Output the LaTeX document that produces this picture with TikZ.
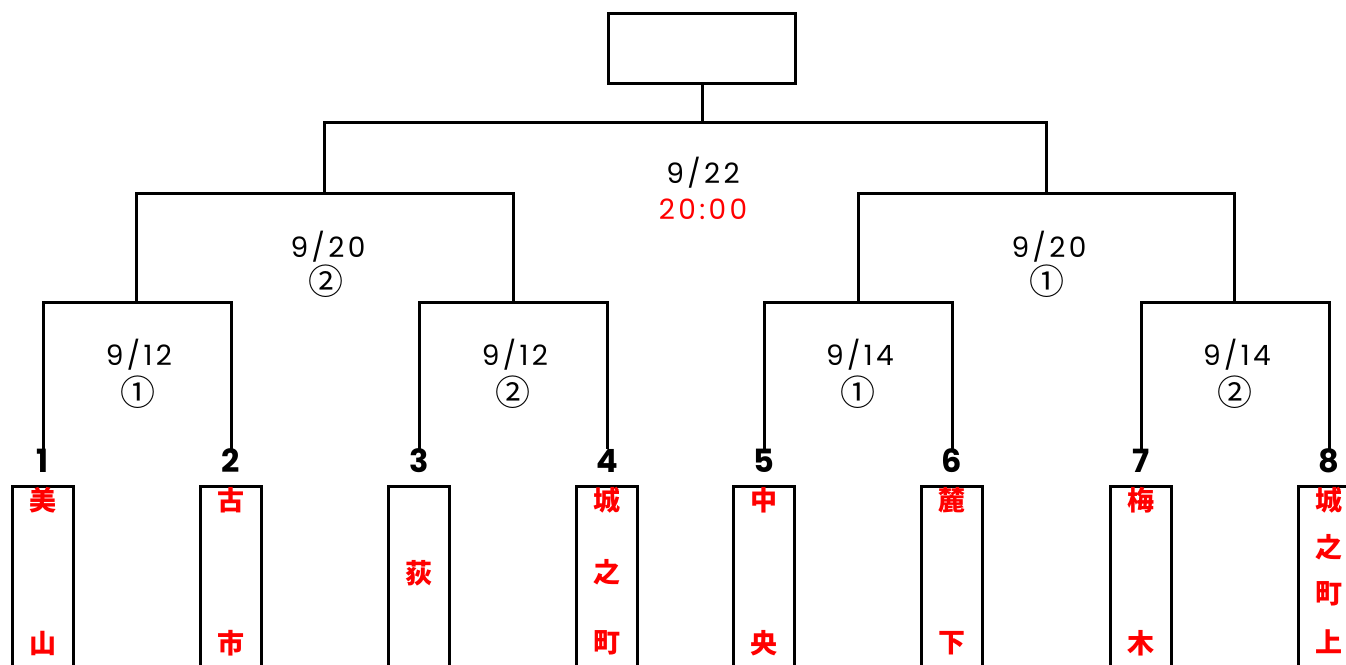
\documentclass[tikz,border=0pt]{standalone}
\usepackage{fontspec}
\setmainfont{Poppins}
\newfontfamily\datefont{Poppins}[LetterSpace=12]
\newfontfamily\jp{Noto Sans CJK JP}
\begin{document}
\begin{tikzpicture}[x=1pt,y=-1pt,
  br/.style={line width=3pt, line join=miter, line cap=rect},
  box/.style={draw, line width=3pt, inner sep=0pt, minimum width=61pt, minimum height=200pt, anchor=north},
  num/.style={font=\fontsize{32}{32}\selectfont\bfseries, inner sep=0pt, anchor=base},
  date/.style={font=\datefont\fontsize{28}{28}\selectfont, inner sep=0pt},
  circ/.style={font=\jp\fontsize{35}{35}\selectfont, inner sep=0pt},
  nm/.style={font=\jp\bfseries\fontsize{27}{27}\selectfont, text=red, inner sep=0pt}]
\useasboundingbox (0,0) rectangle (1346,664);
\clip (0,0) rectangle (1346,664);
\fill[white] (0,0) rectangle (1346,664);

% champion box
\node[draw, line width=3pt, minimum width=187pt, minimum height=70pt, inner sep=0pt] (champ) at (702,48.5) {};

% team boxes
\foreach \i/\x in {1/43,2/231,3/419,4/607,5/764,6/952,7/1141,8/1329}{
  \node[box] (t\i) at (\x,484.5) {};
  \node[num] (n\i) at (\x,472) {\i};
  \coordinate (e\i) at (\x,447);
}

% team names
\node[nm] (a1) at (43,500) {美};
\node[nm] (b1) at (43,643) {山};
\node[nm] (a2) at (231,500) {古};
\node[nm] (b2) at (231,643) {市};
\node[nm] (a3) at (419,573) {荻};
\node[nm] (a4) at (607,500) {城};
\node[nm] (b4) at (607,572) {之};
\node[nm] (c4) at (607,643) {町};
\node[nm] (a5) at (764,500) {中};
\node[nm] (b5) at (764,643) {央};
\node[nm] (a6) at (952,500) {麓};
\node[nm] (b6) at (952,643) {下};
\node[nm] (a7) at (1141,500) {梅};
\node[nm] (b7) at (1141,643) {木};
\node[nm] (a8) at (1329,500) {城};
\node[nm] (b8) at (1329,547) {之};
\node[nm] (c8) at (1329,594) {町};
\node[nm] (d8) at (1329,642) {上};

% bracket joints
\coordinate (m1) at (136.5,302);
\coordinate (m2) at (513,302);
\coordinate (m3) at (858,302);
\coordinate (m4) at (1234.5,302);
\coordinate (s1) at (324.5,193);
\coordinate (s2) at (1046.5,193);
\coordinate (f) at (702,122);

\draw[br] (e1) |- (m1) -| (e2);
\draw[br] (e3) |- (m2) -| (e4);
\draw[br] (e5) |- (m3) -| (e6);
\draw[br] (e7) |- (m4) -| (e8);
\draw[br] (m1) |- (s1) -| (m2);
\draw[br] (m3) |- (s2) -| (m4);
\draw[br] (s1) |- (f) -| (s2);
\draw[br] (f) -- (champ.south);

% dates
\node[date] (d1) at (139,355) {9/12};
\node[circ] (c1) at (137.5,392) {①};
\node[date] (d2) at (515,355) {9/12};
\node[circ] (c2) at (513,392) {②};
\node[date] (d3) at (860,355) {9/14};
\node[circ] (c3) at (858,392) {①};
\node[date] (d4) at (1237,355) {9/14};
\node[circ] (c4) at (1235,392) {②};
\node[date] (d5) at (328,247) {9/20};
\node[circ] (c5) at (326,281) {②};
\node[date] (d6) at (1049,247) {9/20};
\node[circ] (c6) at (1047,281) {①};
\node[date] (d7) at (703,173) {9/22};
\node[date, text=red] (d8) at (703,209) {20:00};
\end{tikzpicture}
\end{document}
